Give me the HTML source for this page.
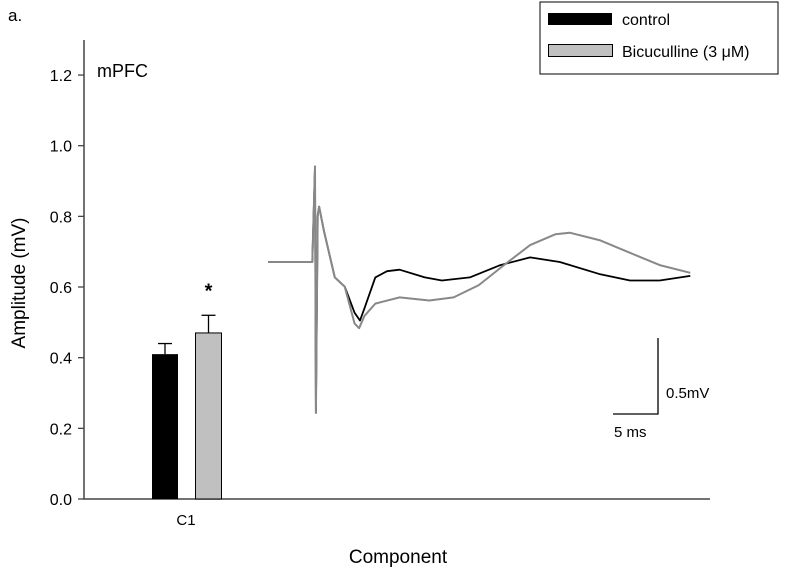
<!DOCTYPE html>
<html><head><meta charset="utf-8"><style>
body{margin:0;background:#fff;}
svg{display:block;font-family:"Liberation Sans",sans-serif;}
</style></head><body>
<svg id="c" width="800" height="571">
<text x="8" y="21" font-size="17">a.</text>
<text x="97" y="77" font-size="18">mPFC</text>
<text transform="translate(25,283) rotate(-90)" text-anchor="middle" font-size="19">Amplitude (mV)</text>
<text x="398" y="563" text-anchor="middle" font-size="19">Component</text>
<g>
<rect x="540" y="2" width="238" height="72" fill="#fff" stroke="#000" stroke-width="1"/>
<rect x="548" y="13" width="64" height="12" fill="#000"/>
<text x="622" y="25" font-size="16">control</text>
<rect x="548.5" y="44.5" width="64" height="12" fill="#c0c0c0" stroke="#000"/>
<text x="622" y="57" font-size="16">Bicuculline (3 μM)</text>
</g>
<g id="axes"></g><g id="bars"></g><g id="traces"></g>
<g>
<path d="M658,338 V414 H613" fill="none" stroke="#000" stroke-width="1.3"/>
<text x="666" y="398" font-size="15">0.5mV</text>
<text x="614" y="437" font-size="15">5 ms</text>
</g>
</svg>
<script>
const yTicks=[0,0.2,0.4,0.6,0.8,1.0,1.2];
const yTickLabels=["0.0","0.2","0.4","0.6","0.8","1.0","1.2"];
const categories=["C1"];
const controlMeans=[0.41];
const controlErr=[0.03];
const bicMeans=[0.47];
const bicErr=[0.05];
const traceT=[-5.2,-0.3,0,0.1,0.3,0.45,1.0,2.2,3.3,4.4,5.0,5.5,6.7,8,9.4,12.2,14.1,17.2,20.6,23.9,27.2,31.7,35,38.3,41.7];
const controlTrace=[0,0,0.62,-0.98,0.3,0.36,0.2,-0.1,-0.16,-0.33,-0.38,-0.3,-0.1,-0.06,-0.05,-0.1,-0.12,-0.1,-0.02,0.03,0,-0.08,-0.12,-0.12,-0.09];
const bicTraceT=[-5.2,-0.3,0,0.1,0.3,0.45,1.0,2.2,3.3,4.4,4.9,5.5,6.7,9.4,12.7,15.4,18.2,21,23.9,26.7,28.3,31.7,35,38.3,41.7];
const bicTrace=[0,0,0.62,-0.98,0.3,0.36,0.2,-0.1,-0.16,-0.4,-0.43,-0.35,-0.27,-0.23,-0.25,-0.23,-0.15,-0.02,0.11,0.18,0.19,0.14,0.06,-0.02,-0.07];
const NS="http://www.w3.org/2000/svg";
const y=v=>499-v*353.3;
const tx=t=>315+t*9, tv=v=>262-v*154;
function mk(tag,attrs,parent){const e=document.createElementNS(NS,tag);for(const k in attrs)e.setAttribute(k,attrs[k]);parent.appendChild(e);return e;}
const ax=document.getElementById('axes');
let a=mk('path',{d:'M84,40 V499 H710',fill:'none',stroke:'#444','stroke-width':1.5},ax);


yTicks.forEach((v,i)=>{
 let l=mk('line',{x1:78,x2:84,y1:y(v),y2:y(v),stroke:'#444','stroke-width':1.3},ax);
 
 
 let t=mk('text',{x:72,y:y(v)+6,'text-anchor':'end','font-size':16},ax);t.textContent=yTickLabels[i];
 
 
});
const bg=document.getElementById('bars');
categories.forEach((c,i)=>{
 const cx=186, c1=165, c2=208.5;
 let el=mk('line',{x1:c1,x2:c1,y1:y(controlMeans[i]+controlErr[i]),y2:y(controlMeans[i]),stroke:'#000','stroke-width':1.3},bg);
 
 
 el=mk('line',{x1:c1-7,x2:c1+7,y1:y(controlMeans[i]+controlErr[i]),y2:y(controlMeans[i]+controlErr[i]),stroke:'#000','stroke-width':1.3},bg);
 
 
 let b=mk('rect',{x:152,y:y(controlMeans[i]),width:26,height:499-y(controlMeans[i]),fill:'#000'},bg);
 
 
 el=mk('line',{x1:c2,x2:c2,y1:y(bicMeans[i]+bicErr[i]),y2:y(bicMeans[i]),stroke:'#000','stroke-width':1.3},bg);
 
 
 el=mk('line',{x1:c2-7,x2:c2+7,y1:y(bicMeans[i]+bicErr[i]),y2:y(bicMeans[i]+bicErr[i]),stroke:'#000','stroke-width':1.3},bg);
 
 
 b=mk('rect',{x:195.5,y:y(bicMeans[i]),width:26,height:499-y(bicMeans[i]),fill:'#c0c0c0',stroke:'#000','stroke-width':1},bg);
 
 
 let s=mk('text',{x:c2,y:y(bicMeans[i]+bicErr[i])-18,'text-anchor':'middle','font-size':20,'font-weight':'bold'},bg);s.textContent='*';
 
 
 let t=mk('text',{x:cx,y:525,'text-anchor':'middle','font-size':15},bg);t.textContent=c;
 
 
});
const tg=document.getElementById('traces');
function pts(T,V){return T.map((t,i)=>tx(t).toFixed(1)+','+tv(V[i]).toFixed(1)).join(' ');}
let p=mk('polyline',{points:pts(traceT,controlTrace),fill:'none',stroke:'#000','stroke-width':1.8,'stroke-linejoin':'round'},tg);


p=mk('polyline',{points:pts(bicTraceT,bicTrace),fill:'none',stroke:'#888','stroke-width':2,'stroke-linejoin':'round'},tg);


</script>
</body></html>
